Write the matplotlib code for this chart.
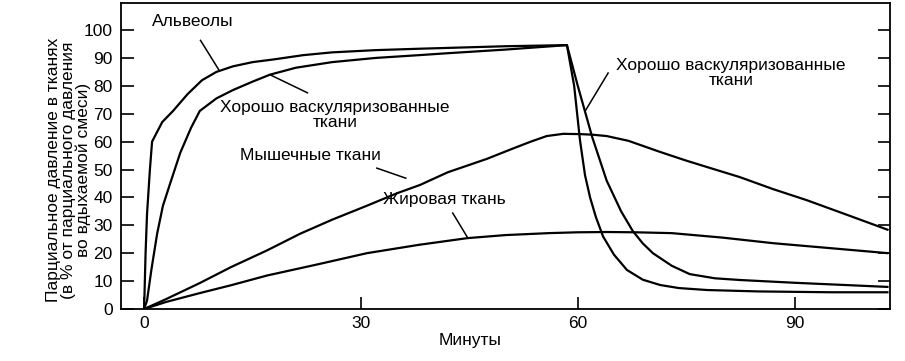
import matplotlib
matplotlib.use("Agg")
import matplotlib.pyplot as plt

plt.rcParams['font.family'] = ['Liberation Sans', 'DejaVu Sans']

# Data (minutes, % partial pressure)
alv_t = [0, 0.2, 0.4, 0.8, 1.1, 2.5, 4, 6, 8, 10, 12.3, 15, 18, 22, 26, 32, 38, 42, 50, 58.5,
         59.5, 60.3, 61, 61.7, 62.5, 63.5, 65, 66.8, 69, 71.4, 74, 77.9, 85, 95, 103]
alv_y = [0, 20, 34, 50, 60, 67, 71, 77, 82, 85, 87, 88.5, 89.5, 91, 92, 92.8, 93.3, 93.6, 94.2, 94.6,
         80, 60.6, 48, 40, 33, 26, 19.5, 14, 10.5, 8.6, 7.5, 6.8, 6.3, 6, 6]

wv_t = [0, 0.4, 1, 1.8, 2.6, 3.6, 5, 6.5, 7.7, 10, 12.3, 15, 17.4, 21, 26, 32, 38, 42, 50, 58.5,
        60, 62, 64, 66, 67.6, 69, 70.4, 73, 75.5, 79, 82.4, 90, 97, 103]
wv_y = [0, 3, 14, 27, 37, 45, 56, 65, 71, 75.5, 78.5, 81.5, 84, 86.5, 88.5, 90, 91, 91.7, 93, 94.6,
        80, 61.6, 46, 35, 28, 23.5, 20, 15.5, 12.5, 11, 10.4, 9.4, 8.6, 7.9]

mus_t = [0, 3, 7.7, 12, 17, 21.6, 26, 30.8, 35, 38.2, 42, 47.4, 51, 53.5, 55.7, 58, 60.3, 62, 64,
         67, 71.4, 75, 78, 82.4, 87, 91.7, 97, 103]
mus_y = [0, 3.5, 9.3, 15, 21, 27, 32, 37, 41.5, 44.5, 49, 53.8, 57.5, 60, 62, 62.8, 62.7, 62.5, 62,
         60.3, 56.3, 53.2, 50.8, 47.3, 43, 39, 34, 28.3]

fat_t = [0, 3, 7.7, 12, 17, 24, 30.8, 38, 44.7, 50, 56, 60, 64, 68, 73, 80, 87, 95, 103]
fat_y = [0, 2.5, 5.7, 8.5, 12, 16, 20, 23, 25.4, 26.5, 27.2, 27.5, 27.6, 27.5, 27.2, 25.6, 23.6, 21.8, 20]

x_ticks = [0, 30, 60, 90]
y_ticks = [0, 10, 20, 30, 40, 50, 60, 70, 80, 90, 100]

fig = plt.figure(figsize=(9.05, 3.61), dpi=100)
ax = fig.add_axes([121/905, 1 - 309/361, (890-121)/905, (309-3)/361])

lw = 1.6
for t, y in [(alv_t, alv_y), (wv_t, wv_y), (mus_t, mus_y), (fat_t, fat_y)]:
    ax.plot(t, y, color='black', lw=lw, solid_capstyle='butt', solid_joinstyle='round')

ax.set_xlim(-3.2, 103.2)
ax.set_ylim(0, 109.7)
ax.set_xticks(x_ticks)
ax.set_yticks(y_ticks)
ax.tick_params(axis='both', direction='in', labelsize=12.5, width=1.2, length=9, pad=5)
ax.tick_params(axis='y', right=True, labelright=False, pad=6)
for s in ax.spines.values():
    s.set_linewidth(1.3)

ax.set_xlabel('Минуты', fontsize=12.5)
ax.xaxis.set_label_coords((470-121)/(890-121), -(333-309)/(309-3), transform=ax.transAxes)
ax.set_ylabel('Парциальное давление в тканях\n(в % от парциального давления\nво вдыхаемой смеси)',
              fontsize=12.5, linespacing=1.0)
ax.yaxis.set_label_coords(-(121-91)/(890-121), (309-170)/(309-3), transform=ax.transAxes)

fs = 12.5
ax.text(1.1, 103.2, 'Альвеолы', fontsize=fs, ha='left', va='center')
ax.plot([7.8, 10.3], [96.3, 85.9], color='black', lw=1.1)

ax.text(26.4, 69.5, 'Хорошо васкуляризованные\nткани', fontsize=fs, ha='center', va='center', linespacing=1.0)
ax.plot([17.4, 22.6], [84, 77.5], color='black', lw=1.1)

ax.text(23, 55.2, 'Мышечные ткани', fontsize=fs, ha='center', va='center')
ax.plot([32.2, 36.2], [50.5, 46.9], color='black', lw=1.1)

ax.text(41.6, 39.4, 'Жировая ткань', fontsize=fs, ha='center', va='center')
ax.plot([42.7, 44.8], [34.4, 25.4], color='black', lw=1.1)

ax.text(81.2, 84.6, 'Хорошо васкуляризованные\nткани', fontsize=fs, ha='center', va='center', linespacing=1.0)
ax.plot([64.2, 61.1], [84.6, 71.3], color='black', lw=1.1)

fig.savefig('out.png', dpi=100)
